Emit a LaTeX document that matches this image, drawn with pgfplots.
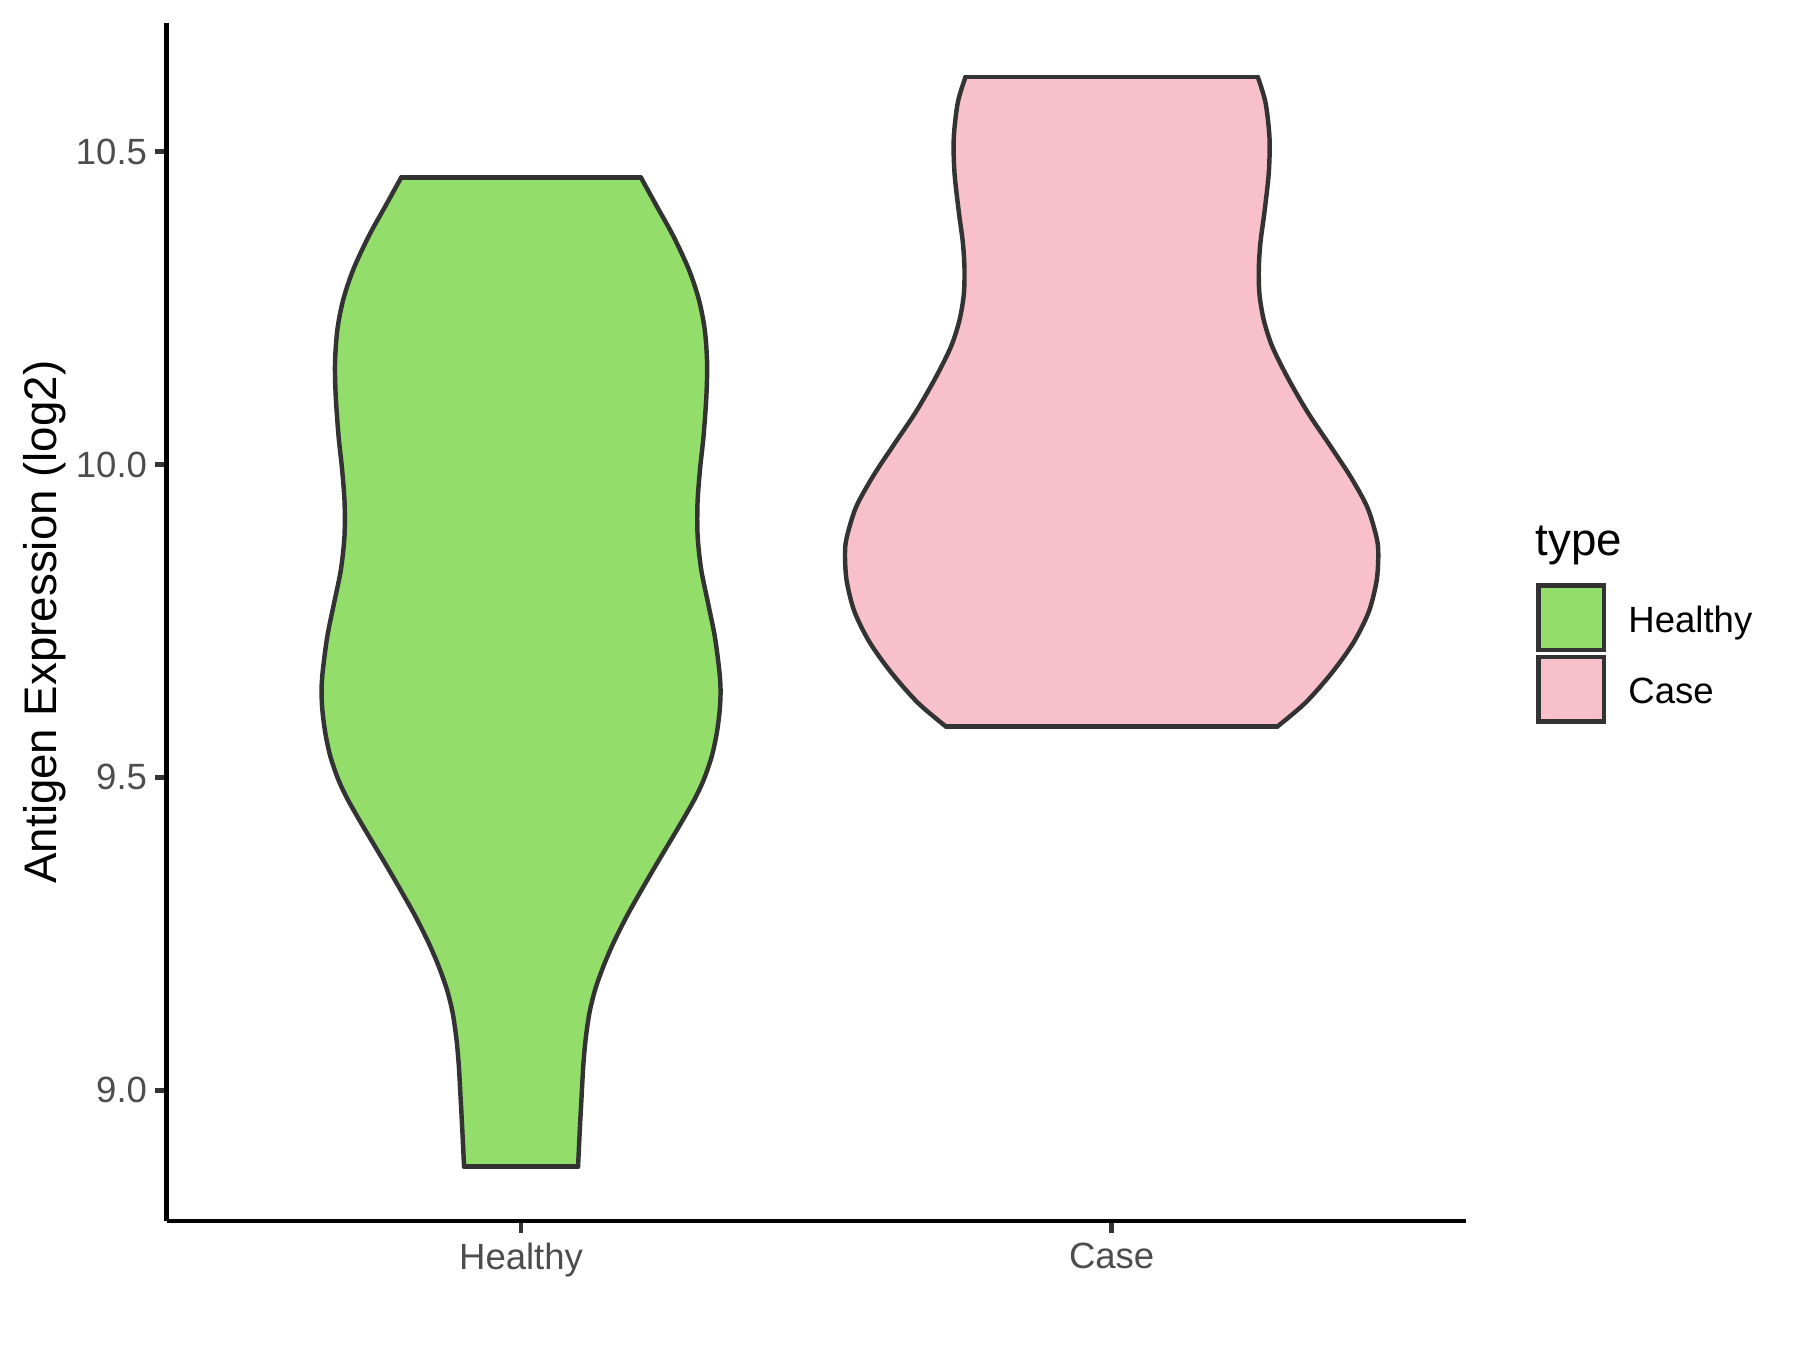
\documentclass[border=0pt]{standalone}
\usepackage{fontspec}
\setmainfont{Liberation Sans}
\usepackage{pgfplots}
\usepackage{pgfplotstable}
\pgfplotsset{compat=1.18}
\definecolor{hgreen}{HTML}{93DD6A}
\definecolor{cpink}{HTML}{F7C0CA}
\definecolor{grey20}{HTML}{333333}
\definecolor{grey30}{HTML}{4D4D4D}

% violin outline: value y, half-width w, side s (+1 right, -1 left)
\pgfplotstableread{
y w s
10.4582 0.2031 1
10.4128 0.2297 1
10.3649 0.2578 1
10.3117 0.2840 1
10.2637 0.3010 1
10.2158 0.3110 1
10.1625 0.3150 1
10.1092 0.3138 1
10.0452 0.3090 1
9.9920 0.3030 1
9.9388 0.2988 1
9.8854 0.2990 1
9.8322 0.3050 1
9.7790 0.3165 1
9.7256 0.3280 1
9.6724 0.3355 1
9.6404 0.3378 1
9.6085 0.3365 1
9.5712 0.3315 1
9.5339 0.3230 1
9.4966 0.3095 1
9.4646 0.2935 1
9.4273 0.2710 1
9.3900 0.2475 1
9.3527 0.2240 1
9.3155 0.2012 1
9.2781 0.1790 1
9.2356 0.1565 1
9.1982 0.1395 1
9.1609 0.1255 1
9.1237 0.1158 1
9.0810 0.1093 1
9.0384 0.1053 1
8.9851 0.1022 1
8.9372 0.0995 1
8.8780 0.0965 1
8.8780 0.0965 -1
8.9372 0.0995 -1
8.9851 0.1022 -1
9.0384 0.1053 -1
9.0810 0.1093 -1
9.1237 0.1158 -1
9.1609 0.1255 -1
9.1982 0.1395 -1
9.2356 0.1565 -1
9.2781 0.1790 -1
9.3155 0.2012 -1
9.3527 0.2240 -1
9.3900 0.2475 -1
9.4273 0.2710 -1
9.4646 0.2935 -1
9.4966 0.3095 -1
9.5339 0.3230 -1
9.5712 0.3315 -1
9.6085 0.3365 -1
9.6404 0.3378 -1
9.6724 0.3355 -1
9.7256 0.3280 -1
9.7790 0.3165 -1
9.8322 0.3050 -1
9.8854 0.2990 -1
9.9388 0.2988 -1
9.9920 0.3030 -1
10.0452 0.3090 -1
10.1092 0.3138 -1
10.1625 0.3150 -1
10.2158 0.3110 -1
10.2637 0.3010 -1
10.3117 0.2840 -1
10.3649 0.2578 -1
10.4128 0.2297 -1
10.4582 0.2031 -1
}\healthy

\pgfplotstableread{
y w s
10.6190 0.2475 1
10.5783 0.2605 1
10.5218 0.2673 1
10.4662 0.2661 1
10.4037 0.2588 1
10.3551 0.2520 1
10.3135 0.2492 1
10.2718 0.2503 1
10.2303 0.2577 1
10.1886 0.2719 1
10.1400 0.2973 1
10.0844 0.3312 1
10.0289 0.3707 1
9.9803 0.4046 1
9.9316 0.4329 1
9.8832 0.4486 1
9.8554 0.4515 1
9.8137 0.4486 1
9.7651 0.4356 1
9.7165 0.4102 1
9.6679 0.3736 1
9.6193 0.3283 1
9.5810 0.2803 1
9.5810 0.2803 -1
9.6193 0.3283 -1
9.6679 0.3736 -1
9.7165 0.4102 -1
9.7651 0.4356 -1
9.8137 0.4486 -1
9.8554 0.4515 -1
9.8832 0.4486 -1
9.9316 0.4329 -1
9.9803 0.4046 -1
10.0289 0.3707 -1
10.0844 0.3312 -1
10.1400 0.2973 -1
10.1886 0.2719 -1
10.2303 0.2577 -1
10.2718 0.2503 -1
10.3135 0.2492 -1
10.3551 0.2520 -1
10.4037 0.2588 -1
10.4662 0.2661 -1
10.5218 0.2673 -1
10.5783 0.2605 -1
10.6190 0.2475 -1
}\casetab

\begin{document}
\begin{tikzpicture}
\useasboundingbox (-40.16pt,-31.0pt) rectangle (393.46pt,294.2pt);
\begin{axis}[
  clip=false,
  scale only axis, width=313.0pt, height=288.7pt,
  xmin=0.4, xmax=2.6, ymin=8.7907, ymax=10.7056,
  axis lines=left,
  axis line style={-, line width=1.07pt, black},
  xtick={1,2}, xticklabels={Healthy,Case},
  ytick={9,9.5,10,10.5}, yticklabels={9.0,9.5,10.0,10.5},
  minor tick num=0,
  tick align=outside, major tick length=2.75pt,
  major tick style={line width=1.07pt, grey20},
  /pgf/number format/assume math mode=true,
  tick label style={font=\fontsize{8.8}{10}\selectfont, text=grey30, inner sep=0pt},
  xticklabel style={anchor=north, yshift=-2.2pt},
  yticklabel style={anchor=east, xshift=-1.8pt},
  ylabel={Antigen Expression (log2)},
  ylabel style={at={(rel axis cs:-0.0942,0.5)}, anchor=center, font=\fontsize{11}{13}\selectfont, inner sep=0pt},
  legend style={at={(rel axis cs:1.0542,0.5324)}, anchor=north west, draw=none, fill=none,
    inner sep=0pt, outer sep=0pt, row sep=0.73pt, column sep=3.4pt,
    font=\fontsize{8.8}{10}\selectfont, text=black},
  legend cell align=left,
]
% fills (polygons)
\addplot[fill=hgreen, draw=none, forget plot]
  table[x expr=1+\thisrow{s}*\thisrow{w}, y=y] {\healthy} -- cycle;
\addplot[fill=cpink, draw=none, forget plot]
  table[x expr=2+\thisrow{s}*\thisrow{w}, y=y] {\casetab} -- cycle;
% outlines, one smooth curve per side
\addplot[draw=grey20, line width=1.07pt, smooth, line join=round, line cap=round, forget plot,
  restrict expr to domain={\thisrow{s}}{0:2}]
  table[x expr=1+\thisrow{s}*\thisrow{w}, y=y] {\healthy};
\addplot[draw=grey20, line width=1.07pt, smooth, line join=round, line cap=round, forget plot,
  restrict expr to domain={\thisrow{s}}{-2:0}]
  table[x expr=1+\thisrow{s}*\thisrow{w}, y=y] {\healthy};
\addplot[draw=grey20, line width=1.07pt, line cap=round, forget plot] coordinates {(0.7969,10.4582) (1.2031,10.4582)};
\addplot[draw=grey20, line width=1.07pt, line cap=round, forget plot] coordinates {(0.9035,8.878) (1.0965,8.878)};
\addplot[draw=grey20, line width=1.07pt, smooth, line join=round, line cap=round, forget plot,
  restrict expr to domain={\thisrow{s}}{0:2}]
  table[x expr=2+\thisrow{s}*\thisrow{w}, y=y] {\casetab};
\addplot[draw=grey20, line width=1.07pt, smooth, line join=round, line cap=round, forget plot,
  restrict expr to domain={\thisrow{s}}{-2:0}]
  table[x expr=2+\thisrow{s}*\thisrow{w}, y=y] {\casetab};
\addplot[draw=grey20, line width=1.07pt, line cap=round, forget plot] coordinates {(1.7525,10.619) (2.2475,10.619)};
\addplot[draw=grey20, line width=1.07pt, line cap=round, forget plot] coordinates {(1.7197,9.581) (2.2803,9.581)};
% legend
\addlegendimage{legend image code/.code={\draw[fill=hgreen, draw=grey20, line width=1.07pt] (0pt,-6.65pt) rectangle (15.7pt,8.85pt);}}
\addlegendentry{Healthy}
\addlegendimage{legend image code/.code={\draw[fill=cpink, draw=grey20, line width=1.07pt] (0pt,-6.65pt) rectangle (15.7pt,8.85pt);}}
\addlegendentry{Case}
\node[anchor=base west, inner sep=0pt, font=\fontsize{11}{13}\selectfont] at (rel axis cs:1.0530,0.5556) {type};
\end{axis}
\end{tikzpicture}
\end{document}
